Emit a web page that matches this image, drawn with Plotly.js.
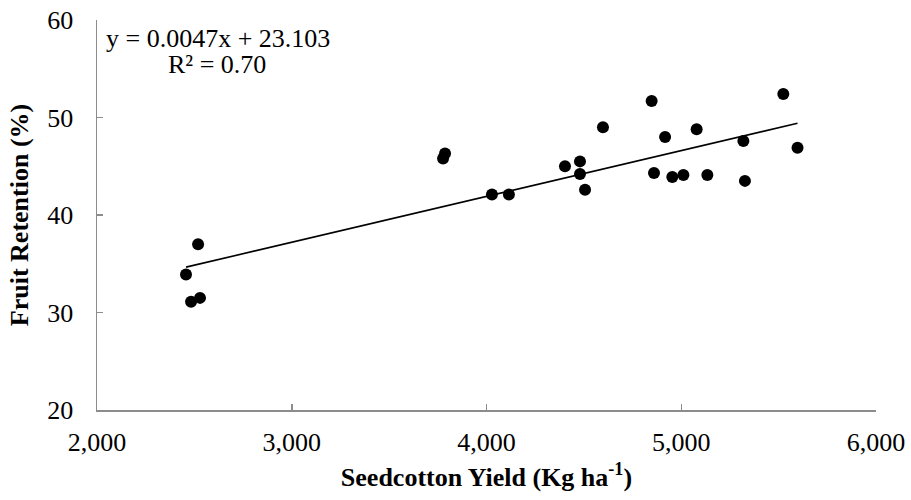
<!DOCTYPE html>
<html>
<head>
<meta charset="utf-8">
<script src="https://cdn.plot.ly/plotly-3.0.1.min.js"></script>
<style>html,body{margin:0;padding:0;background:#fff;}#chart{width:911px;height:500px;}</style>
</head>
<body>
<div id="chart"></div>
<script>
// Seedcotton yield (kg/ha) and fruit retention (%)
const yieldKg = [2457, 2483, 2529, 2519, 3787, 3777, 4028, 4115, 4403, 4480, 4480, 4506, 4598,
                 4848, 4917, 5079, 4860, 4954, 5011, 5134, 5319, 5327, 5524, 5597];
const retention = [33.9, 31.1, 31.5, 37.0, 46.3, 45.8, 42.1, 42.1, 45.0, 45.5, 44.2, 42.6, 49.0,
                   51.7, 48.0, 48.8, 44.3, 43.9, 44.1, 44.1, 47.6, 43.5, 52.4, 46.9];
const slope = 0.0047;
const intercept = 23.103;
const equationText = "y = 0.0047x + 23.103";
const r2Text = "R² = 0.70";
const xTicks = [2000, 3000, 4000, 5000, 6000];
const xTickText = ["2,000", "3,000", "4,000", "5,000", "6,000"];
const yTicks = [20, 30, 40, 50, 60];

const xMin = Math.min(...yieldKg), xMax = Math.max(...yieldKg);
const trendX = [xMin, xMax];
const trendY = trendX.map(v => slope * v + intercept);

const serif = "Liberation Serif";
const axisColor = "#8c8c8c";

const data = [
  {x: trendX, y: trendY, type: "scatter", mode: "lines",
   line: {color: "#000", width: 1.6}, hoverinfo: "skip", showlegend: false},
  {x: yieldKg, y: retention, type: "scatter", mode: "markers",
   marker: {color: "#000", size: 12}, hoverinfo: "skip", showlegend: false}
];

const layout = {
  width: 911, height: 500,
  margin: {l: 97, r: 35, t: 20, b: 90},
  paper_bgcolor: "#fff", plot_bgcolor: "#fff",
  font: {family: serif, color: "#000", size: 26},
  xaxis: {
    range: [2000, 6000], tickvals: xTicks, ticktext: xTickText,
    showgrid: false, zeroline: false, showline: true, linecolor: axisColor, linewidth: 1.5,
    ticks: "inside", ticklen: 6, tickcolor: axisColor, tickwidth: 1.5,
    tickfont: {family: serif, size: 26, color: "#000"},
    ticklabelstandoff: 8,
    title: {text: "<b>Seedcotton Yield (Kg ha<sup>-1</sup>)</b>", font: {family: serif, size: 26, color: "#000"}, standoff: 12},
    automargin: false
  },
  yaxis: {
    range: [20, 60], tickvals: yTicks,
    showgrid: false, zeroline: false, showline: true, linecolor: axisColor, linewidth: 1.5,
    ticks: "inside", ticklen: 6, tickcolor: axisColor, tickwidth: 1.5,
    tickfont: {family: serif, size: 26, color: "#000"},
    ticklabelstandoff: 17,
    title: {text: "<b>Fruit Retention (%)</b>", font: {family: serif, size: 26, color: "#000"}, standoff: 11},
    automargin: false
  },
  annotations: [
    {xref: "paper", yref: "paper", x: 0.155, y: 0.952, xanchor: "center", yanchor: "middle",
     text: equationText, showarrow: false, font: {family: serif, size: 26, color: "#000"}},
    {xref: "paper", yref: "paper", x: 0.154, y: 0.886, xanchor: "center", yanchor: "middle",
     text: r2Text, showarrow: false, font: {family: serif, size: 26, color: "#000"}}
  ]
};

Plotly.newPlot("chart", data, layout, {displayModeBar: false, staticPlot: true});
</script>
</body>
</html>
